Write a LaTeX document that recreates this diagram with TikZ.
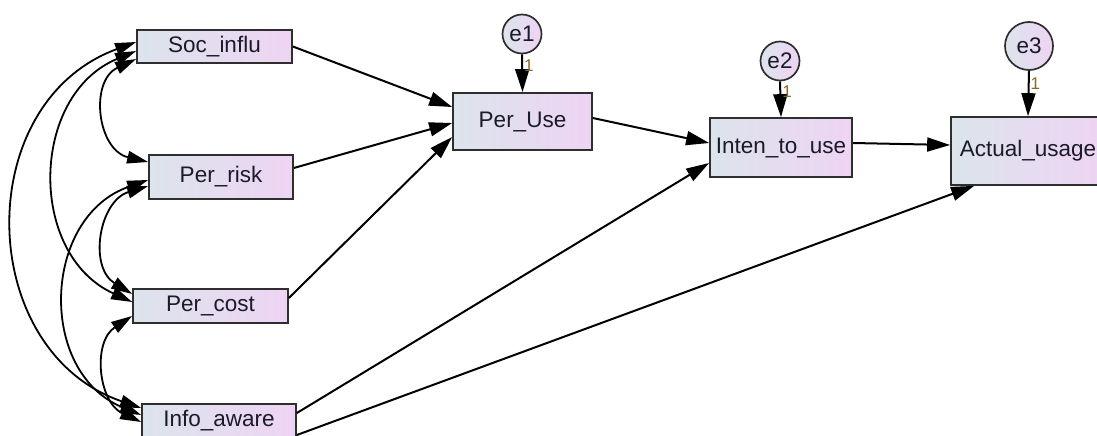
\documentclass[tikz,border=0pt]{standalone}
\usepackage{fontspec}
\setmainfont{Liberation Sans}
\usetikzlibrary{arrows.meta,calc}
\definecolor{boxleft}{HTML}{DCE4EC}
\definecolor{boxright}{HTML}{EED4F3}
\definecolor{edgegray}{HTML}{2E2E2E}
\definecolor{inkcol}{HTML}{1A1A28}
\definecolor{onecol}{HTML}{8A6A20}
\begin{document}
\begin{tikzpicture}[x=1pt,y=-1pt,
  var/.style={draw=edgegray, line width=1.7pt, left color=boxleft, right color=boxright,
    inner sep=0pt, font=\fontsize{22.5}{26}\selectfont, text=inkcol},
  err/.style={circle, draw=edgegray, line width=1.7pt, left color=boxleft, right color=boxright,
    inner sep=0pt, font=\fontsize{22.5}{26}\selectfont, text=inkcol},
  regpath/.style={-{Triangle[length=23pt,width=14pt]}, line width=2pt, draw=black},
  covpath/.style={{Triangle[length=21pt,width=12.5pt]}-{Triangle[length=21pt,width=12.5pt]},
    line width=1.8pt, draw=black},
  onelab/.style={font=\fontsize{17}{18}\selectfont, text=onecol, inner sep=1pt}
]
\useasboundingbox (0,0) rectangle (1097,436);
\clip (0,0) rectangle (1097,436);

% exogenous variables
\node[var, minimum width=155pt, minimum height=33pt] (soc)  at (214.5,46.5) {Soc\_influ};
\node[var, minimum width=144pt, minimum height=44pt] (risk) at (221,177)    {Per\_risk};
\node[var, minimum width=155pt, minimum height=34pt] (cost) at (210.5,306)  {Per\_cost};
\node[var, minimum width=154pt, minimum height=34pt] (info) at (219,421)    {Info\_aware};

% endogenous variables
\node[var, minimum width=139pt, minimum height=57pt] (peruse) at (522.5,121.5) {Per\_Use};
\node[var, minimum width=142pt, minimum height=59pt] (inten)  at (781,147.5)   {Inten\_to\_use};
\node[var, minimum width=154pt, minimum height=68pt] (actual) at (1028,151)    {Actual\_usage};

% error terms
\node[err, minimum size=39pt] (e1) at (522,34) {e1};
\node[err, minimum size=39pt] (e2) at (780,61) {e2};
\node[err, minimum size=48pt] (e3) at (1029,46) {e3};

% error paths
\draw[regpath] (e1.south) -- (peruse.north) node[onelab, pos=0.3, right] (l1) {1};
\draw[regpath] (e2.south) -- (inten.north)  node[onelab, pos=0.3, right] (l2) {1};
\draw[regpath] (e3.south) -- (actual.north) node[onelab, pos=0.28, right] (l3) {1};

% regression paths
\draw[regpath] (soc.east) -- ($(peruse.west)+(0,-14.5)$);
\draw[regpath] ($(risk.east)+(0,-9)$) -- ($(peruse.west)+(0,1.5)$);
\draw[regpath] ($(cost.east)+(0,-8)$) -- ($(peruse.west)+(0,15.5)$);
\draw[regpath] ($(peruse.east)+(0,-3.5)$) -- ($(inten.west)+(0,-4.5)$);
\draw[regpath] ($(info.east)+(0,-8)$) -- ($(inten.west)+(0,15.5)$);
\draw[regpath] ($(inten.east)+(0,-4.5)$) -- ($(actual.west)+(0,-6)$);
\draw[regpath] ($(info.east)+(0,14)$) -- ($(actual.south west)+(24,0)$);

% covariances
\draw[covpath] ($(soc.west)+(0,12.5)$) .. controls +(-47,22) and +(-51,-12) .. ($(risk.west)+(0,-15)$);
\draw[covpath] ($(soc.west)+(0,4.5)$) .. controls +(-106,44) and +(-105,-48) .. ($(cost.west)+(0,-4)$);
\draw[covpath] ($(soc.west)+(0,-4.5)$) .. controls +(-166,61) and +(-166,-57) .. ($(info.west)+(0,-13)$);
\draw[covpath] ($(risk.west)+(0,9)$) .. controls +(-49,15) and +(-44,-27) .. ($(cost.west)+(0,-12)$);
\draw[covpath] ($(risk.west)+(0,3)$) .. controls +(-106,37) and +(-104,-43) .. ($(info.west)+(0,-6)$);
\draw[covpath] ($(cost.west)+(0,10)$) .. controls +(-40,26) and +(-43,-20) .. ($(info.west)+(0,1)$);
\end{tikzpicture}
\end{document}
